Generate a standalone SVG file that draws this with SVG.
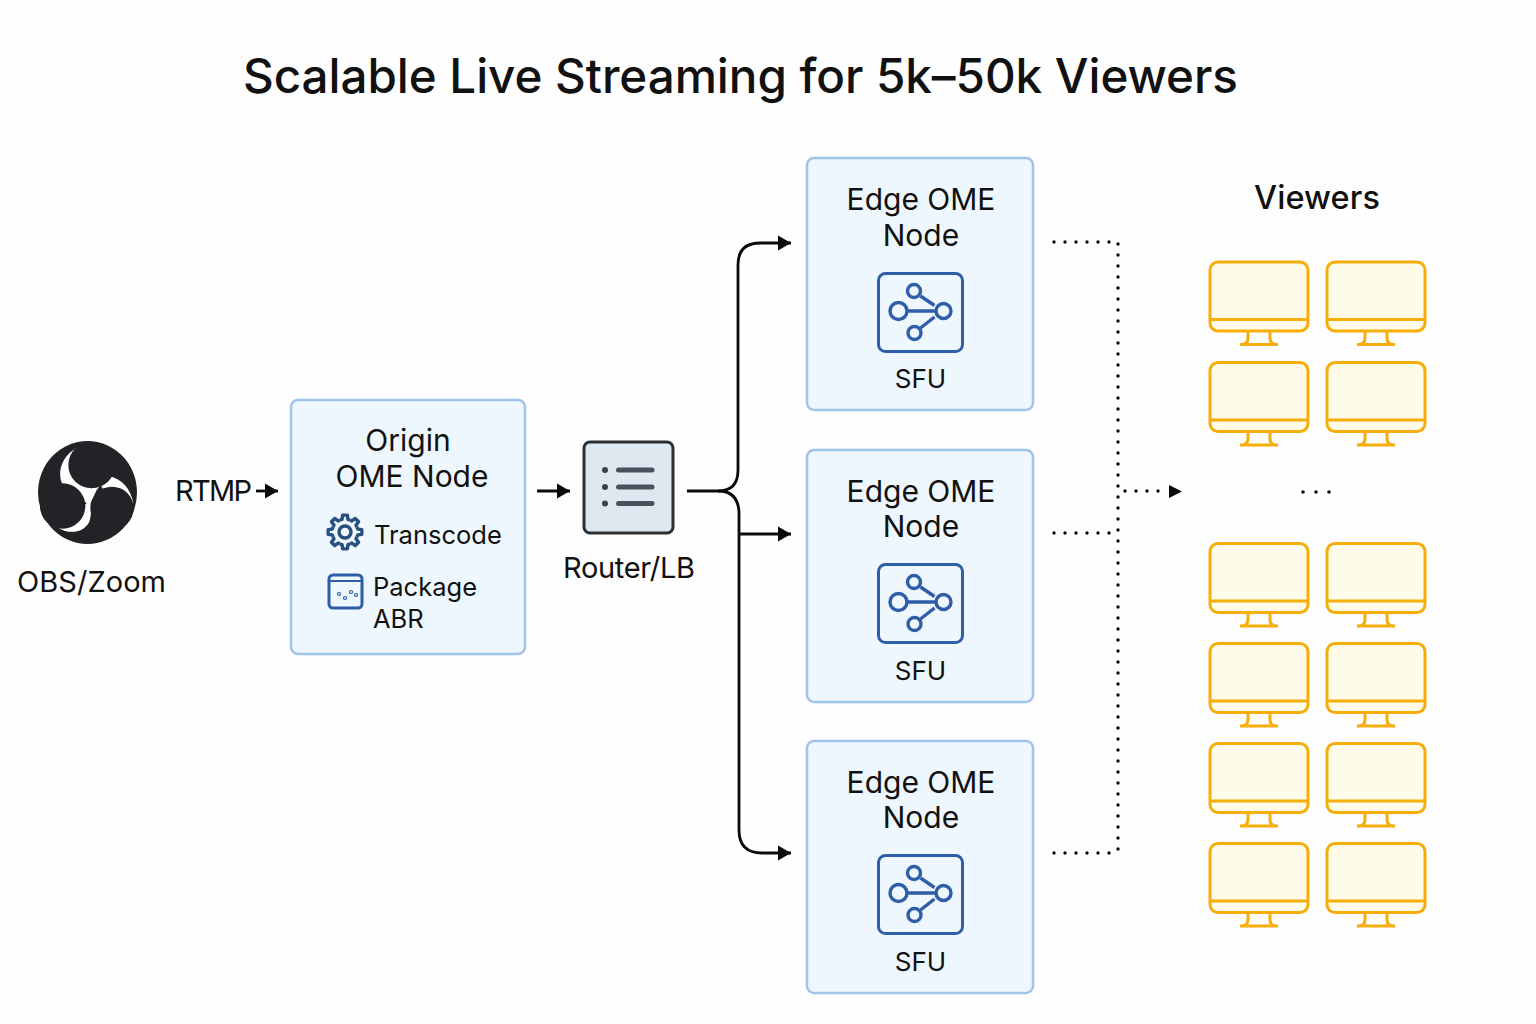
<svg xmlns="http://www.w3.org/2000/svg" width="1536" height="1024" viewBox="0 0 1536 1024">
<style>
text{font-family:Inter,"Liberation Sans",sans-serif;fill:#111;}
.t{font-size:47.600px;font-weight:500;}
.n{font-size:30px;text-anchor:middle;}
.s{font-size:25.500px;}
.f{font-size:26px;text-anchor:middle;}
.l{font-size:29px;}
.box{fill:#eff7fe;stroke:#a0c4ea;stroke-width:2.500;}
.ic{fill:none;stroke:#2f5ea8;stroke-width:3.400;}
.mon{fill:none;stroke:#f5ae0a;stroke-width:3;}
.con{fill:none;stroke:#0a0a0a;stroke-width:2.800;}
.dot{fill:none;stroke:#0a0a0a;stroke-width:3.400;stroke-linecap:round;stroke-dasharray:0 11;}
</style>
<defs>
<marker id="arr" markerUnits="userSpaceOnUse" markerWidth="14" markerHeight="16" refX="13" refY="8" orient="auto"><path d="M0 0.500L13 8L0 15.500z" fill="#0a0a0a"/></marker>
<symbol id="mon" width="120" height="90" viewBox="0 0 120 90" overflow="visible">
<rect x="1" y="1" width="98" height="69" rx="8" fill="#fffbe9" stroke="none"/>
<rect x="1" y="1" width="98" height="69" rx="8" class="mon"/>
<path d="M1 58.500H99" class="mon"/>
<path d="M39 70V77Q39 83.500 32 83.500M61 70V77Q61 83.500 68 83.500M31 83.500H69" class="mon"/>
</symbol>
<symbol id="sfu" width="90" height="84" viewBox="0 0 90 84" overflow="visible">
<rect x="1" y="1" width="84" height="78" rx="7" fill="#eff7fe" stroke="#2f5ea8" stroke-width="3"/>
<circle cx="36.500" cy="18.500" r="6.500" class="ic"/>
<circle cx="21" cy="38.500" r="8.500" class="ic"/>
<circle cx="66" cy="38.500" r="7.500" class="ic"/>
<circle cx="37" cy="60.500" r="6.500" class="ic"/>
<path d="M29.500 38.500H58.500M43 23.500L57 33M43 55.500L57 44.500" class="ic"/>
</symbol>
<path id="tooth" d="M-4.970 -12.010L-2.920 -12.670L-2.370 -16.830H2.370L2.920 -12.670L4.970 -12.010" fill="none" stroke="#27507f" stroke-width="3.400" stroke-linejoin="round"/>
</defs>
<rect width="1536" height="1024" fill="#fefefe"/>
<text id="title" class="t" x="243" y="93" textLength="995">Scalable Live Streaming for 5k–50k Viewers</text>

<g id="connectors">
<path class="con" d="M256 491H278" marker-end="url(#arr)"/>
<path class="con" d="M537 491H570" marker-end="url(#arr)"/>
<path class="con" d="M687 491H718Q738 491 738 470V265Q738 243 760 243H791" marker-end="url(#arr)"/>
<path class="con" d="M718 491Q738 491 739 512V830Q739 853 762 853H791" marker-end="url(#arr)"/>
<path class="con" d="M739 534H791" marker-end="url(#arr)"/>
<path class="dot" d="M1054 242H1112"/>
<path class="dot" d="M1054 533H1112"/>
<path class="dot" d="M1054 853H1112"/>
<path class="dot" d="M1118 244V850"/>
<path class="dot" d="M1125 491H1160"/>
<path d="M1169 485L1182 491.500L1169 498z" fill="#0a0a0a"/>
</g>

<g id="source">
<ellipse cx="87.500" cy="492.500" rx="49.500" ry="51.500" fill="#222326"/>
<g transform="translate(0 390) scale(.3333)">
<path fill="#fff" d="M228 175C185 200 168 250 190 288L260 340L170 410C205 435 250 430 268 395C275 375 273 350 272 340L290 300L325 258C365 265 392 295 400 340L330 330L260 220z"/>
<g fill="#222326"><circle cx="275" cy="225" r="70"/><circle cx="336" cy="355" r="65"/><circle cx="188" cy="348" r="68"/></g>
</g>
<text class="l" x="17" y="592" textLength="149">OBS/Zoom</text>
</g>
<text id="rtmp" class="l" x="175" y="501" textLength="77">RTMP</text>

<g id="origin">
<rect class="box" x="291" y="400" width="234" height="254" rx="7"/>
<text class="n" x="408" y="451">Origin</text>
<text class="n" x="412" y="487">OME Node</text>
<g transform="translate(345 532)">
<use href="#tooth"/><use href="#tooth" transform="rotate(45)"/><use href="#tooth" transform="rotate(90)"/><use href="#tooth" transform="rotate(135)"/><use href="#tooth" transform="rotate(180)"/><use href="#tooth" transform="rotate(225)"/><use href="#tooth" transform="rotate(270)"/><use href="#tooth" transform="rotate(315)"/>
<circle r="6" fill="none" stroke="#27507f" stroke-width="3.400"/>
</g>
<text class="s" x="374" y="544">Transcode</text>
<rect x="329" y="575" width="33" height="33" rx="4" fill="none" stroke="#2f5ea8" stroke-width="3"/>
<path d="M329 581H362" stroke="#2f5ea8" stroke-width="2"/>
<g fill="none" stroke="#2f5ea8" stroke-width="1.200"><circle cx="339" cy="594" r="1.500"/><circle cx="345" cy="598" r="1.500"/><circle cx="351" cy="592" r="1.500"/><circle cx="356" cy="595" r="1.500"/></g>
<text class="s" x="373" y="596">Package</text>
<text class="s" x="373" y="628">ABR</text>
</g>

<g id="router">
<rect x="584" y="442" width="89" height="91" rx="6" fill="#dde8f1" stroke="#2b2f33" stroke-width="3"/>
<path d="M618.500 470H652M618.500 487H652M618.500 503.500H652" stroke="#48525c" stroke-width="5" stroke-linecap="round"/>
<g fill="#38424c"><circle cx="605" cy="470" r="3"/><circle cx="605" cy="487" r="3"/><circle cx="605" cy="503.500" r="3"/></g>
<text class="l" x="563" y="578" textLength="132">Router/LB</text>
</g>

<g id="edge-1">
<rect class="box" x="807" y="158" width="226" height="252" rx="7"/>
<text class="n" x="921" y="210">Edge OME</text>
<text class="n" x="921" y="246">Node</text>
<use href="#sfu" x="877.500" y="272.500"/>
<text class="f" x="920.500" y="388">SFU</text>
</g>
<g id="edge-2">
<rect class="box" x="807" y="450" width="226" height="252" rx="7"/>
<text class="n" x="921" y="502">Edge OME</text>
<text class="n" x="921" y="537">Node</text>
<use href="#sfu" x="877.500" y="563.500"/>
<text class="f" x="920.500" y="680">SFU</text>
</g>
<g id="edge-3">
<rect class="box" x="807" y="741" width="226" height="252" rx="7"/>
<text class="n" x="921" y="793">Edge OME</text>
<text class="n" x="921" y="828">Node</text>
<use href="#sfu" x="877.500" y="854.500"/>
<text class="f" x="920.500" y="971">SFU</text>
</g>

<g id="viewers">
<text x="1254" y="209" textLength="126" style="font-size:32.500px;font-weight:500">Viewers</text>
<use href="#mon" x="1209" y="261"/><use href="#mon" x="1326" y="261"/>
<use href="#mon" x="1209" y="361.500"/><use href="#mon" x="1326" y="361.500"/>
<g fill="#111"><circle cx="1303" cy="492" r="1.800"/><circle cx="1316" cy="492" r="1.800"/><circle cx="1329" cy="492" r="1.800"/></g>
<use href="#mon" x="1209" y="542.500"/><use href="#mon" x="1326" y="542.500"/>
<use href="#mon" x="1209" y="642.500"/><use href="#mon" x="1326" y="642.500"/>
<use href="#mon" x="1209" y="742.500"/><use href="#mon" x="1326" y="742.500"/>
<use href="#mon" x="1209" y="842.500"/><use href="#mon" x="1326" y="842.500"/>
</g>
</svg>
